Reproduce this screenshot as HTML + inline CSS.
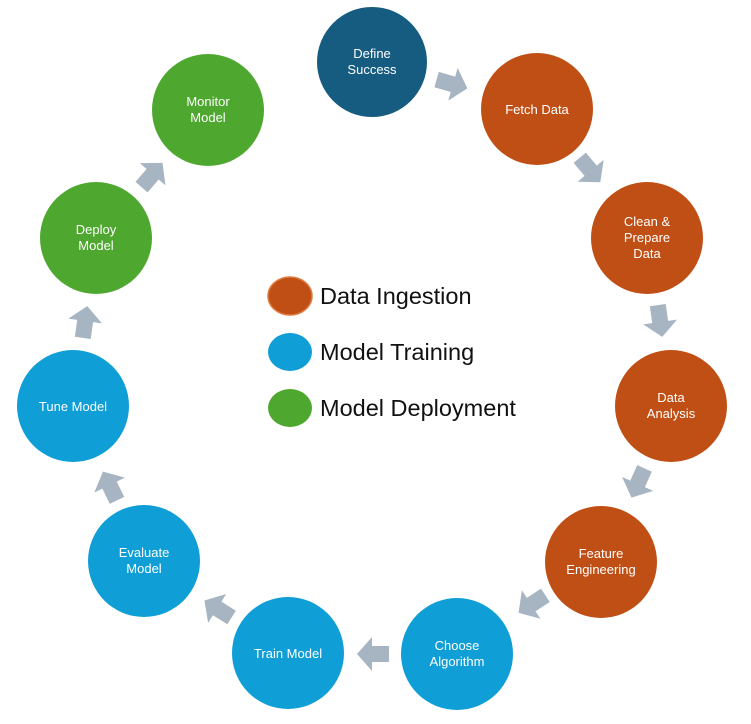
<!DOCTYPE html>
<html><head><style>
body{margin:0;background:#fff;width:751px;height:719px;overflow:hidden}
svg text{font-family:"Liberation Sans",sans-serif}
</style></head><body>
<svg width="751" height="719" viewBox="0 0 751 719">
<defs>
<polygon id="ar" points="-16,-8 1,-8 1,-17 16,0 1,17 1,8 -16,8" fill="#a7b4c2"/>
</defs>
<g font-size="13" fill="#fff" text-anchor="middle">
<circle cx="372" cy="62" r="55" fill="#165c80"/>
<text x="372" y="58">Define</text><text x="372" y="74">Success</text>
<circle cx="537" cy="109" r="56" fill="#c04f15"/>
<text x="537" y="114">Fetch Data</text>
<circle cx="647" cy="238" r="56" fill="#c04f15"/>
<text x="647" y="226">Clean &amp;</text><text x="647" y="242">Prepare</text><text x="647" y="258">Data</text>
<circle cx="671" cy="406" r="56" fill="#c04f15"/>
<text x="671" y="402">Data</text><text x="671" y="418">Analysis</text>
<circle cx="601" cy="562" r="56" fill="#c04f15"/>
<text x="601" y="558">Feature</text><text x="601" y="574">Engineering</text>
<circle cx="457" cy="654" r="56" fill="#0f9ed5"/>
<text x="457" y="650">Choose</text><text x="457" y="666">Algorithm</text>
<circle cx="288" cy="653" r="56" fill="#0f9ed5"/>
<text x="288" y="658">Train Model</text>
<circle cx="144" cy="561" r="56" fill="#0f9ed5"/>
<text x="144" y="557">Evaluate</text><text x="144" y="573">Model</text>
<circle cx="73" cy="406" r="56" fill="#0f9ed5"/>
<text x="73" y="411">Tune Model</text>
<circle cx="96" cy="238" r="56" fill="#4ea72e"/>
<text x="96" y="234">Deploy</text><text x="96" y="250">Model</text>
<circle cx="208" cy="110" r="56" fill="#4ea72e"/>
<text x="208" y="106">Monitor</text><text x="208" y="122">Model</text>
</g>
<use href="#ar" transform="translate(452,84) rotate(16)"/>
<use href="#ar" transform="translate(590,170) rotate(50)"/>
<use href="#ar" transform="translate(660,321) rotate(82)"/>
<use href="#ar" transform="translate(638,483) rotate(114)"/>
<use href="#ar" transform="translate(532,604) rotate(147)"/>
<use href="#ar" transform="translate(373,654) rotate(180)"/>
<use href="#ar" transform="translate(218,609) rotate(212)"/>
<use href="#ar" transform="translate(110,486) rotate(244)"/>
<use href="#ar" transform="translate(85,322) rotate(278)"/>
<use href="#ar" transform="translate(152,175) rotate(311)"/>
<ellipse cx="290" cy="296" rx="22" ry="19" fill="#c04f15" stroke="#e07a40" stroke-width="1.5"/>
<ellipse cx="290" cy="352" rx="22" ry="19" fill="#0f9ed5"/>
<ellipse cx="290" cy="408" rx="22" ry="19" fill="#4ea72e"/>
<g font-size="23.5" fill="#111">
<text x="320" y="304">Data Ingestion</text>
<text x="320" y="360">Model Training</text>
<text x="320" y="416">Model Deployment</text>
</g>
</svg>
</body></html>
